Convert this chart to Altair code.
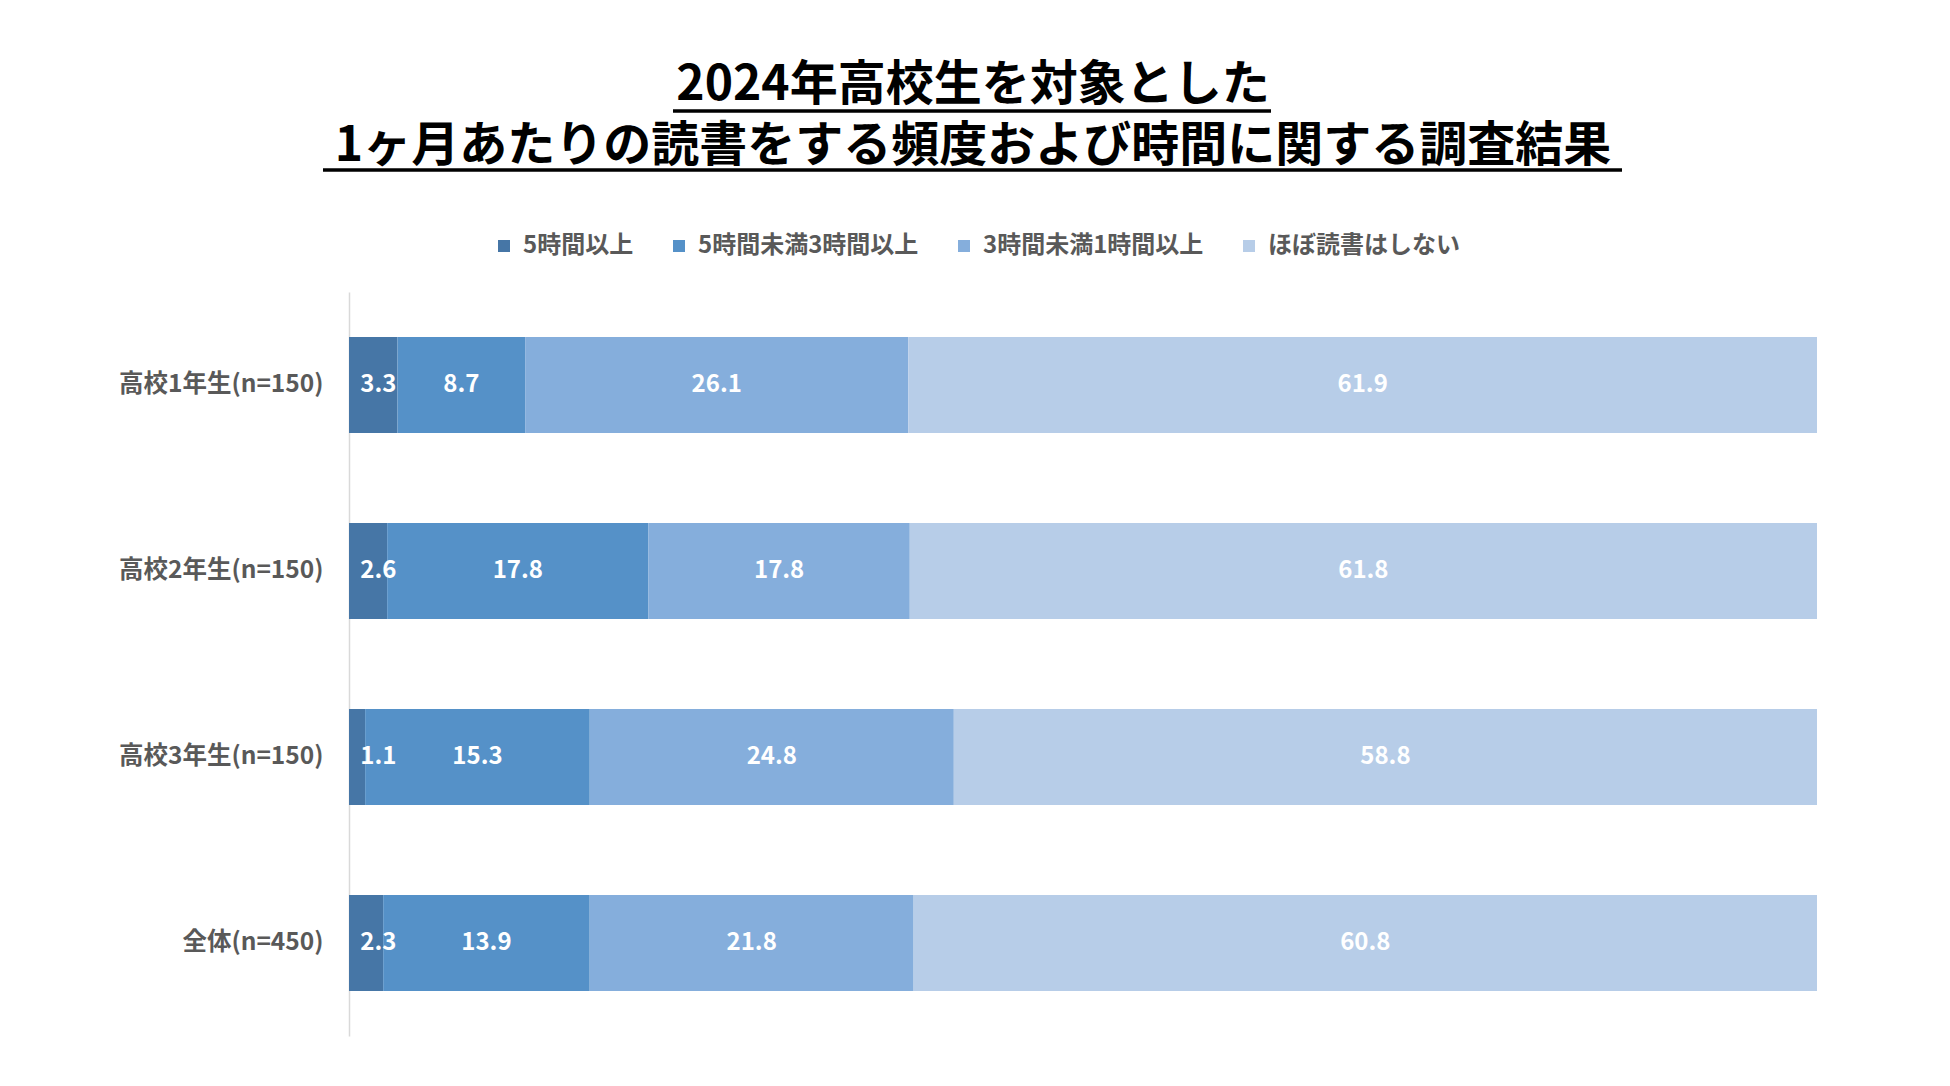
import altair as alt
import pandas as pd

categories = ["高校1年生(n=150)", "高校2年生(n=150)", "高校3年生(n=150)", "全体(n=450)"]
series = ["5時間以上", "5時間未満3時間以上", "3時間未満1時間以上", "ほぼ読書はしない"]
v_5plus = [3.3, 2.6, 1.1, 2.3]
v_3to5 = [8.7, 17.8, 15.3, 13.9]
v_1to3 = [26.1, 17.8, 24.8, 21.8]
v_none = [61.9, 61.8, 58.8, 60.8]
colors = ["#4676A6", "#5591C8", "#85AEDC", "#B7CDE8"]

title_lines = ["2024年高校生を対象とした", "1ヶ月あたりの読書をする頻度および時間に関する調査結果"]

rows = []
for s_i, (s, vals) in enumerate(zip(series, [v_5plus, v_3to5, v_1to3, v_none])):
    for c, v in zip(categories, vals):
        rows.append({"category": c, "series": s, "order": s_i, "value": v})
df = pd.DataFrame(rows)

FONT = "Noto Sans CJK JP"

y_enc = alt.Y(
    "category:N",
    sort=categories,
    title=None,
    scale=alt.Scale(paddingInner=0.484, paddingOuter=0.242),
    axis=alt.Axis(
        labelFont=FONT, labelFontSize=24.5, labelFontWeight="bold", labelColor="#595959",
        labelPadding=26, ticks=False, domainColor="#D9D9D9", domainWidth=1.5, grid=False,
        labelAlign="right", labelLimit=400,
    ),
)

bars = alt.Chart(df).mark_bar(strokeWidth=0).encode(
    y=y_enc,
    x=alt.X("value:Q", stack="normalize", axis=None, scale=alt.Scale(domain=[0, 1], nice=False)),
    color=alt.Color(
        "series:N",
        sort=series,
        scale=alt.Scale(domain=series, range=colors),
        legend=alt.Legend(
            title=None, orient="none", direction="horizontal", legendX=143, legendY=-58,
            labelFont=FONT, labelFontSize=24, labelFontWeight="bold", labelColor="#595959",
            symbolType="square", symbolSize=144, symbolStrokeWidth=0, labelOffset=7,
            columnPadding=33, padding=0, labelLimit=400,
        ),
    ),
    order=alt.Order("order:Q"),
)

labels = alt.Chart(df).transform_joinaggregate(
    total="sum(value)", groupby=["category"]
).transform_window(
    cum="sum(value)", sort=[alt.SortField("order")], groupby=["category"]
).transform_calculate(
    pos="max((datum.cum - datum.value / 2) / datum.total, 0.02)",
    label="format(datum.value, '.1f')",
).mark_text(
    font=FONT, fontSize=24, fontWeight="bold", color="white", align="center", baseline="middle"
).encode(
    y=alt.Y("category:N", sort=categories),
    x=alt.X("pos:Q"),
    text="label:N",
)

one = pd.DataFrame({"k": [0]})
underline1 = alt.Chart(one).mark_rule(color="black", strokeWidth=3.5).encode(
    x=alt.value(324), x2=alt.value(922), y=alt.value(-181)
)
underline2 = alt.Chart(one).mark_rule(color="black", strokeWidth=3.5).encode(
    x=alt.value(-26), x2=alt.value(1273), y=alt.value(-122)
)

chart = alt.layer(bars, labels, underline1, underline2).properties(
    width=1468,
    height=744,
    autosize=alt.AutoSizeParams(type="none"),
    padding={"left": 341, "top": 284, "right": 120, "bottom": 40},
    title=alt.TitleParams(
        text=title_lines, font=FONT, fontSize=48, fontWeight="bold", color="black",
        anchor="middle", lineHeight=61, dx=-110, offset=95, dy=157,
    ),
).configure_view(stroke=None)

chart.save("out.html", embed_options={"renderer": "svg", "actions": False})
